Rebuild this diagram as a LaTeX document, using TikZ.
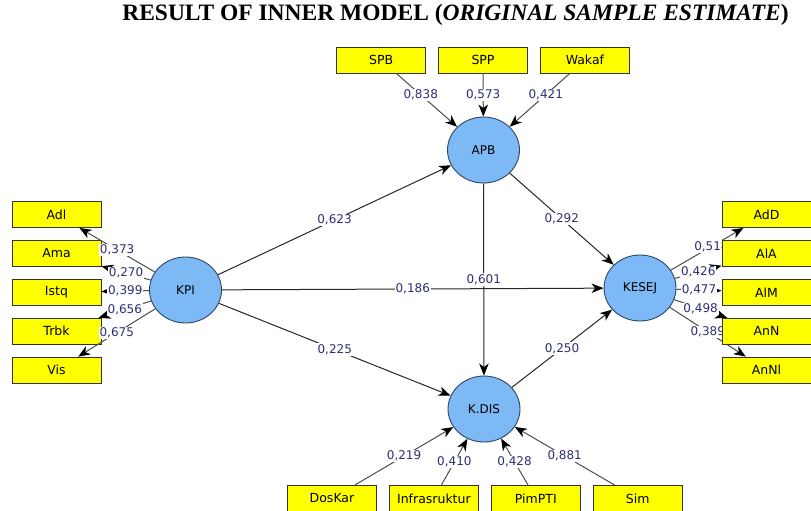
\documentclass[tikz,border=0pt]{standalone}
\usepackage{fontspec}
\setmainfont{Liberation Serif}
\newfontfamily\plsfont{DejaVu Sans}
\usetikzlibrary{shapes.geometric,arrows.meta,positioning,backgrounds}
\definecolor{latentblue}{HTML}{7DB9F5}
\definecolor{latentedge}{HTML}{2F4560}
\definecolor{coefnavy}{HTML}{2E2E78}
\definecolor{itemyellow}{HTML}{FFFF00}

\begin{document}
\begin{tikzpicture}[
    x=1pt, y=-1pt,
    node distance=12pt,
    latent/.style={ellipse, draw=latentedge, line width=0.9pt, fill=latentblue, minimum width=72pt, minimum height=66pt, inner sep=0pt, font=\plsfont\fontsize{12}{13}\selectfont},
    item/.style={rectangle, draw=black!80, line width=0.9pt, fill=itemyellow, minimum width=89pt, minimum height=26pt, inner sep=0pt, font=\plsfont\fontsize{12.5}{13}\selectfont},
    coef/.style={fill=white, text=coefnavy, inner sep=1pt, font=\plsfont\fontsize{12}{13}\selectfont},
    load/.style={draw=black!70, line width=1pt, -{Stealth[length=12pt,width=9.5pt,inset=3.5pt,color=black]}},
    inner/.style={draw=black!85, line width=1pt, -{Stealth[length=12pt,width=9.5pt,inset=3.5pt,color=black]}},
]
    \useasboundingbox (0,0) rectangle (811,511);

    % Title
    \node[font=\bfseries\fontsize{23.5}{26}\selectfont] (title) at (455.5,15) {RESULT OF INNER MODEL (\textit{ORIGINAL SAMPLE ESTIMATE})};

    % Latent variables
    \node[latent] (kpi) at (185.5,290) {KPI};
    \node[latent] (apb) at (483.5,150) {APB};
    \node[latent] (kesej) at (640,288) {KESEJ};
    \node[latent] (kdis) at (484,409) {K.DIS};

    % Indicators of KPI
    \node[item] (adl) at (56.5,214.5) {Adl};
    \node[item, below=of adl] (ama) {Ama};
    \node[item, below=of ama] (istq) {Istq};
    \node[item, below=of istq] (trbk) {Trbk};
    \node[item, below=of trbk] (vis) {Vis};

    % Indicators of KESEJ
    \node[item] (add) at (766.5,214.5) {AdD};
    \node[item, below=of add] (ala) {AlA};
    \node[item, below=of ala] (alm) {AlM};
    \node[item, below=of alm] (ann) {AnN};
    \node[item, below=of ann] (annl) {AnNl};

    % Indicators of APB
    \node[item] (spp) at (483,60) {SPP};
    \node[item, left=of spp] (spb) {SPB};
    \node[item, right=of spp] (wakaf) {Wakaf};

    % Indicators of K.DIS
    \node[item] (doskar) at (332,498.5) {DosKar};
    \node[item, right=of doskar] (infra) {Infrasruktur};
    \node[item, right=of infra] (pimpti) {PimPTI};
    \node[item, right=of pimpti] (sim) {Sim};

    % Reflective loadings
    \draw[load] (kpi) -- node[coef] {0,373} (adl);
    \draw[load] (kpi) -- node[coef] {0,270} (ama);
    \draw[load] (kpi) -- node[coef] {0,399} (istq);
    \draw[load] (kpi) -- node[coef] {0,656} (trbk);
    \draw[load] (kpi) -- node[coef] {0,675} (vis);

    \begin{scope}[on background layer]
        \draw[load] (kesej) -- node[coef, pos=0.56] {0,518} (add);
        \draw[load] (kesej) -- node[coef] {0,426} (ala);
        \draw[load] (kesej) -- node[coef] {0,477} (alm);
        \draw[load] (kesej) -- node[coef] {0,498} (ann);
        \draw[load] (kesej) -- node[coef] {0,389} (annl);
    \end{scope}

    % Formative weights
    \draw[load] (spb) -- node[coef, pos=0.4] {0,838} (apb);
    \draw[load] (spp) -- node[coef] {0,573} (apb);
    \draw[load] (wakaf) -- node[coef, pos=0.4] {0,421} (apb);

    \draw[load] (doskar) -- node[coef] {0,219} (kdis);
    \draw[load] (infra) -- node[coef] {0,410} (kdis);
    \draw[load] (pimpti) -- node[coef] {0,428} (kdis);
    \draw[load] (sim) -- node[coef] {0,881} (kdis);

    % Path coefficients
    \draw[inner] (kpi) -- node[coef] {0,623} (apb);
    \draw[inner] (kpi) -- node[coef] {0,186} (kesej);
    \draw[inner] (kpi) -- node[coef] {0,225} (kdis);
    \draw[inner] (apb) -- node[coef] {0,601} (kdis);
    \draw[inner] (apb) -- node[coef] {0,292} (kesej);
    \draw[inner] (kdis) -- node[coef] {0,250} (kesej);
\end{tikzpicture}
\end{document}
